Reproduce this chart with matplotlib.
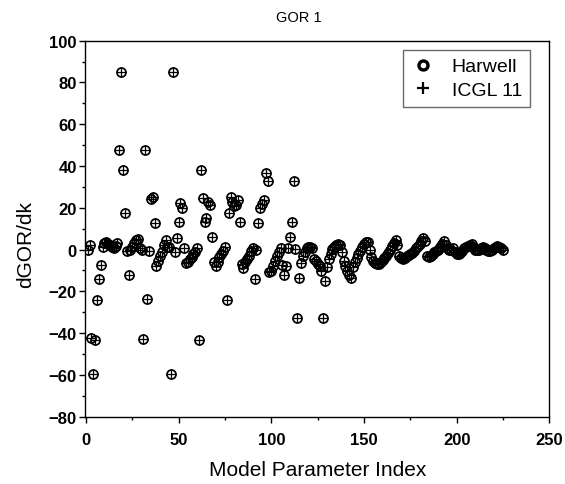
import numpy as np
import matplotlib
matplotlib.use('Agg')
import matplotlib.pyplot as plt
from matplotlib.lines import Line2D

plt.rcParams['font.family'] = ['Liberation Sans', 'DejaVu Sans']

# dGOR/dk per model parameter
harwell = [
    0, 2, -42.5, -59.5, -43.4, -24, -14, -7.5, 1, 3,
    3.5, 2.5, 2, 1, 0.5, 1.5, 3, 47.5, 85, 38,
    17.5, -0.5, -12, 0, 1, 3, 4.5, 5, 0.5, 0,
    -42.7, 47.5, -23.7, -0.5, 24.3, 25.2, 12.7, -7.8, -5.5, -3,
    -1, 2, 4.5, 1, 1, -59.5, 85, -1, 5.5, 13.3,
    22.5, 20, 0.5, -6.3, -6, -4.5, -3.5, -2, -1, 0.5,
    -43.4, 38, 24.5, 13.3, 15.3, 23, 21.3, 6, -6, -8,
    -6.2, -3.8, -2.2, -0.6, 1, -24, 17.6, 25.3, 22.7, 21,
    21.5, 23.5, 13.3, -7.1, -9, -6.2, -4.6, -3, -0.8, 0.5,
    -14, -0.3, 12.9, 20, 22, 23.5, 36.5, 33, -10.6, -10.4,
    -7.8, -5.4, -3, -1.1, 0.5, -7.5, -12.2, -7.8, 0.5, 6,
    13.3, 32.7, 0.2, -32.9, -13.8, -6.5, -3, -1, 0.5, 1,
    1.3, 0.5, -4.3, -5.4, -7, -8, -10.5, -32.9, -15, -8.6,
    -4.6, -2.2, 0.2, 1, 2, 2.5, 2.2, -1.4, -5.4, -7.8,
    -10.2, -12, -13.8, -8.6, -6, -4, -2.2, -0.5, 1, 2.5,
    3.6, 3.5, 0, -3.5, -5.5, -6.5, -7, -7, -6, -5,
    -4, -3, -1.5, 0, 1.5, 3, 4.5, 2, -3, -4,
    -4.5, -4, -3, -2.5, -2, -1.5, -0.5, 0.5, 1.5, 2.5,
    4, 5.5, 4, -3, -3.5, -3, -2, -1, -0.5, 0,
    1, 2.5, 4, 2, 0.5, 0, 0, 0.5, -1, -2,
    -2, -1.5, -0.5, 0.5, 1, 1.5, 2, 2.5, 1, 0,
    0, 0, 0.5, 1, 0.5, 0, -0.5, -0.5, 0, 0.5,
    1, 1.5, 1, 0.5, 0,
]
icgl = list(harwell)  # the two codes agree point for point
index = np.arange(1, len(harwell) + 1)

fig = plt.figure(figsize=(5.65, 4.85), dpi=100)
ax = fig.add_axes([0.1504, 0.139, 0.822, 0.775])

ax.plot(index, harwell, 'o', mfc='none', mec='black', ms=6.5, mew=1.25,
        label='Harwell')
ax.plot(index, icgl, '+', color='black', ms=6.5, mew=0.9, label='ICGL 11')

ax.set_xlim(-0.5, 250)
ax.set_ylim(-80, 100)
ax.set_xticks(np.arange(0, 251, 50))
ax.set_xticks(np.arange(25, 250, 50), minor=True)
ax.set_yticks(np.arange(-80, 101, 20))
ax.set_yticks(np.arange(-70, 100, 20), minor=True)
ax.tick_params(which='major', direction='out', length=4, width=1,
               labelsize=12, top=False, right=False)
ax.tick_params(which='minor', direction='out', length=2.5, width=1,
               top=False, right=False)
ax.tick_params(axis='x', pad=7)
ax.tick_params(axis='y', pad=2)
for lab in ax.get_xticklabels() + ax.get_yticklabels():
    lab.set_fontweight('bold')
for sp in ax.spines.values():
    sp.set_linewidth(1.0)

ax.set_xlabel('Model Parameter Index', fontsize=15)
ax.xaxis.set_label_coords(0.5, -0.142)
ax.xaxis.label.set_va('center')
ax.set_ylabel('dGOR/dk', fontsize=15)
ax.yaxis.set_label_coords(-0.127, 0.46)
ax.yaxis.label.set_va('center')

fig.text(0.529, 0.963, 'GOR 1', ha='center', va='center', fontsize=10.5)

# legend: open circle drawn heavier than in the plot
handles = [
    Line2D([], [], ls='none', marker='o', mfc='none', mec='black', ms=6.5,
           mew=2.4),
    Line2D([], [], ls='none', marker='+', color='black', ms=8, mew=1.6),
]
leg = ax.legend(handles, ['Harwell', 'ICGL 11'], loc='upper right',
                bbox_to_anchor=(0.958, 0.975), fontsize=14, frameon=True,
                fancybox=False, edgecolor='#444444', handlelength=1.2,
                handletextpad=0.9, borderpad=0.4, labelspacing=0.3,
                borderaxespad=0)
leg.get_frame().set_linewidth(1.0)

fig.savefig('out.png', dpi=100)
